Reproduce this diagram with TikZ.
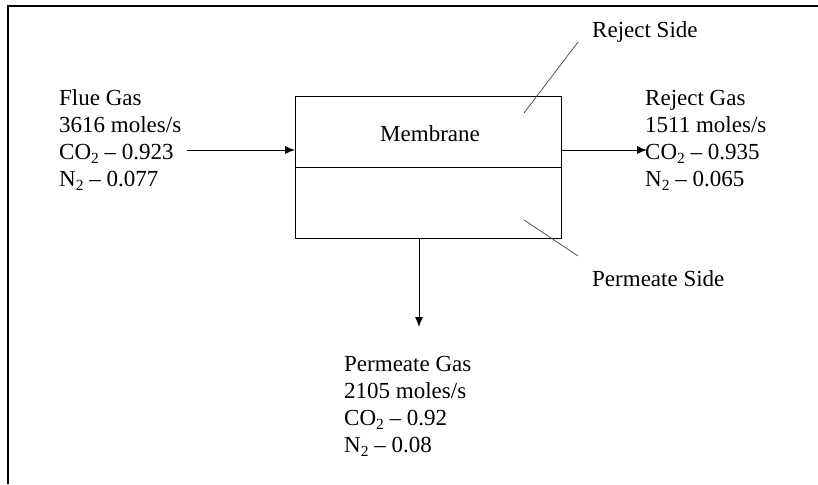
\documentclass[tikz,border=0pt]{standalone}
\usepackage{fontspec}
\setmainfont{Liberation Serif}
\usetikzlibrary{arrows.meta}
\newcommand\lowsub[1]{\raisebox{-4pt}{\fontsize{15.5}{15.5}\selectfont #1}}
\tikzset{
  lbl/.style={inner sep=0pt, align=left, font=\fontsize{23}{27}\selectfont, text=black},
  chamber/.style={draw, line width=1.2pt, inner sep=0pt, minimum width=266pt, minimum height=71pt, anchor=north west},
  flow/.style={line width=1pt, -{Latex[length=10pt,width=8pt]}},
  leader/.style={line width=0.7pt, black!75},
}
\begin{document}
\begin{tikzpicture}[x=1pt, y=-1pt]
  \useasboundingbox (0,0) rectangle (818,484);
  % outer frame (top and left edges)
  \draw[line width=2pt] (8,484) -- (8,6) -- (818,6);

  % membrane module: reject chamber above, permeate chamber below
  \node[chamber] (rej) at (295,96) {};
  \node[chamber] (prm) at (295,167) {};
  \node[lbl, anchor=base west] (mem) at (380,141.7) {Membrane};

  % stream labels
  \node[lbl, anchor=north west] (flue) at (59,89.3)
    {Flue Gas\\3616 moles/s\\CO\lowsub{2} – 0.923\\N\lowsub{2} – 0.077};
  \node[lbl, anchor=north west] (rgas) at (645,90.3)
    {Reject Gas\\1511 moles/s\\CO\lowsub{2} – 0.935\\N\lowsub{2} – 0.065};
  \node[lbl, anchor=north west] (pgas) at (344,356.5)
    {Permeate Gas\\2105 moles/s\\CO\lowsub{2} – 0.92\\N\lowsub{2} – 0.08};

  \node[lbl, anchor=base west] (rside) at (592,38) {Reject Side};
  \node[lbl, anchor=base west] (pside) at (592,286) {Permeate Side};

  % arrow end points
  \coordinate (inS) at (187,150);
  \coordinate (outE) at (647,150);
  \coordinate (downE) at (419,327);

  \draw[flow] (inS) -- (rej.west |- inS);
  \draw[flow] (rej.east |- outE) -- (outE);
  \draw[flow] (prm.south -| downE) -- (downE);

  % leader lines to the side labels
  \coordinate (rA) at (578,42);
  \coordinate (rB) at (524,113);
  \coordinate (pA) at (524,220);
  \coordinate (pB) at (578,256);
  \draw[leader] (rA) -- (rB);
  \draw[leader] (pA) -- (pB);
\end{tikzpicture}
\end{document}
